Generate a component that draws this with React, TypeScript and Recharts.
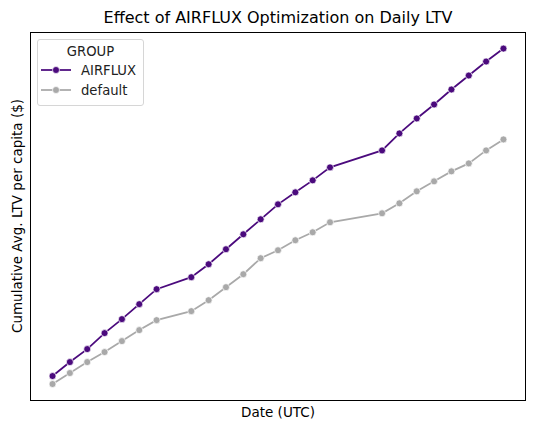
import { LineChart, Line, XAxis, YAxis } from 'recharts'

// day index since start of test; some days have no data
const days = [0, 1, 2, 3, 4, 5, 6, 8, 9, 10, 11, 12, 13, 14, 15, 16, 19, 20, 21, 22, 23, 24, 25, 26]

const airflux = [
  0.25, 0.39, 0.52, 0.68, 0.82, 0.97, 1.12, 1.24, 1.37, 1.52, 1.67, 1.82,
  1.97, 2.09, 2.21, 2.34, 2.51, 2.68, 2.83, 2.97, 3.12, 3.26, 3.4, 3.53,
]

const defaultGroup = [
  0.17, 0.28, 0.39, 0.49, 0.6, 0.71, 0.81, 0.9, 1.01, 1.14, 1.27, 1.43,
  1.51, 1.61, 1.69, 1.79, 1.88, 1.98, 2.1, 2.2, 2.3, 2.38, 2.51, 2.62,
]

const groups = [
  { key: 'AIRFLUX', color: '#4b0a7d' },
  { key: 'default', color: '#a9a9a9' },
]

const data = days.map((d, i) => ({ day: d, AIRFLUX: airflux[i], default: defaultGroup[i] }))

const font = 'DejaVu Sans, sans-serif'

function GroupLegend() {
  return (
    <div
      style={{
        position: 'absolute',
        left: 37,
        top: 39,
        width: 107,
        height: 67,
        boxSizing: 'border-box',
        border: '1px solid #d6d6d6',
        borderRadius: 3,
        background: 'rgba(255,255,255,0.8)',
        fontFamily: font,
        fontSize: 13.2,
        color: '#222',
      }}
    >
      <div style={{ textAlign: 'center', marginTop: 3, lineHeight: '17px' }}>GROUP</div>
      {groups.map((g) => (
        <div key={g.key} style={{ display: 'flex', alignItems: 'center', height: 20, paddingLeft: 3 }}>
          <svg width={30} height={10} style={{ marginRight: 10 }}>
            <line x1={0} y1={5} x2={30} y2={5} stroke={g.color} strokeWidth={1.75} />
            <circle cx={15} cy={5} r={3.5} fill={g.color} stroke="#fff" strokeWidth={0.7} />
          </svg>
          <span>{g.key}</span>
        </div>
      ))}
    </div>
  )
}

export default function App() {
  return (
    <div style={{ position: 'absolute', left: 0, top: 0, width: 535, height: 431, background: '#fff' }}>
      <LineChart width={535} height={431} data={data} margin={{ top: 32, right: 9, left: 30, bottom: 30 }}>
        <XAxis dataKey="day" type="number" domain={[-1.3, 27.3]} hide />
        <YAxis type="number" domain={[0, 3.696]} hide />
        {groups.map((g) => (
          <Line
            key={g.key}
            dataKey={g.key}
            stroke={g.color}
            strokeWidth={1.75}
            dot={{ r: 3.5, fill: g.color, stroke: '#fff', strokeWidth: 0.7 }}
            activeDot={false}
            isAnimationActive={false}
          />
        ))}
      </LineChart>
      {/* axes frame */}
      <div
        style={{
          position: 'absolute',
          left: 30,
          top: 32,
          width: 496,
          height: 369,
          boxSizing: 'border-box',
          border: '1px solid #000',
          pointerEvents: 'none',
        }}
      />
      <GroupLegend />
      <div
        style={{
          position: 'absolute',
          left: 30,
          width: 496,
          top: 8,
          textAlign: 'center',
          fontFamily: font,
          fontSize: 16,
          color: '#000',
        }}
      >
        Effect of AIRFLUX Optimization on Daily LTV
      </div>
      <div
        style={{
          position: 'absolute',
          left: 30,
          width: 496,
          top: 404,
          textAlign: 'center',
          fontFamily: font,
          fontSize: 13.5,
          color: '#000',
        }}
      >
        Date (UTC)
      </div>
      <div
        style={{
          position: 'absolute',
          left: 17,
          top: 216,
          transform: 'translate(-50%, -50%) rotate(-90deg)',
          whiteSpace: 'nowrap',
          fontFamily: font,
          fontSize: 13.5,
          color: '#000',
        }}
      >
        Cumulative Avg. LTV per capita ($)
      </div>
    </div>
  )
}
